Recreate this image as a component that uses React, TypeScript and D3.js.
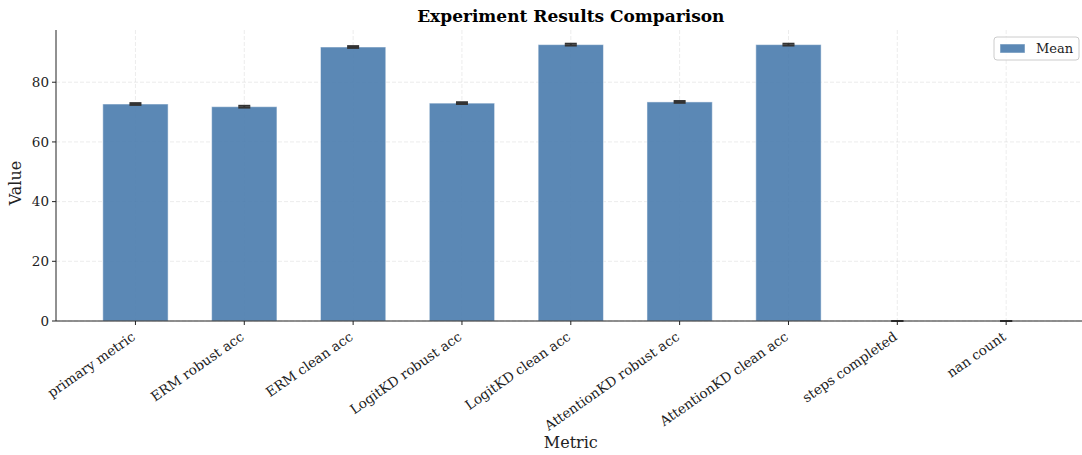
import React from "react";
import * as d3 from "d3";

const categories = [
  "primary metric",
  "ERM robust acc",
  "ERM clean acc",
  "LogitKD robust acc",
  "LogitKD clean acc",
  "AttentionKD robust acc",
  "AttentionKD clean acc",
  "steps completed",
  "nan count",
];
const means = [72.7, 71.8, 91.8, 73.0, 92.6, 73.4, 92.6, 0, 0];
const errs = [0.3, 0.3, 0.3, 0.3, 0.3, 0.3, 0.3, 0, 0];
const yTicks = [0, 20, 40, 60, 80];
const seriesName = "Mean";

const W = 1082;
const H = 455;
const left = 56;
const right = 1085.6;
const top = 30;
const bottom = 321;
const FONT = "'DejaVu Serif', serif";

export default function App() {
  const x = d3.scaleLinear().domain([-0.73, categories.length - 1 + 0.73]).range([left, right]);
  const y = d3.scaleLinear().domain([0, 97.5]).range([bottom, top]);
  const bw = x(0.6) - x(0);
  const barColor = "#497bad";

  return (
    <svg
      width={W}
      height={H}
      style={{ position: "absolute", left: 0, top: 0, background: "#fff" }}
      fontFamily={FONT}
    >
      {/* grid */}
      {yTicks.map((t) => (
        <line
          key={"gy" + t}
          x1={left}
          x2={right}
          y1={y(t)}
          y2={y(t)}
          stroke="#b0b0b0"
          strokeOpacity={0.3}
          strokeDasharray="4,2"
          strokeWidth={0.8}
        />
      ))}
      {categories.map((c, i) => (
        <line
          key={"gx" + i}
          x1={x(i)}
          x2={x(i)}
          y1={top}
          y2={bottom}
          stroke="#b0b0b0"
          strokeOpacity={0.3}
          strokeDasharray="4,2"
          strokeWidth={0.8}
        />
      ))}
      {/* bars */}
      {means.map((m, i) => (
        <rect
          key={"b" + i}
          x={x(i) - bw / 2}
          y={y(m)}
          width={bw}
          height={y(0) - y(m)}
          fill={barColor}
          fillOpacity={0.9}
          stroke="#ffffff"
          strokeOpacity={0.5}
          strokeWidth={1}
        />
      ))}
      {/* error bars */}
      {means.map((m, i) => (
        <g key={"e" + i} stroke="#333" strokeWidth={2}>
          <line x1={x(i)} x2={x(i)} y1={y(m - errs[i])} y2={y(m + errs[i])} />
          <line x1={x(i) - 6} x2={x(i) + 6} y1={y(m - errs[i])} y2={y(m - errs[i])} />
          <line x1={x(i) - 6} x2={x(i) + 6} y1={y(m + errs[i])} y2={y(m + errs[i])} />
        </g>
      ))}
      {/* axes */}
      <line x1={left} x2={left} y1={top} y2={bottom} stroke="#222" strokeWidth={1} />
      <line x1={left} x2={right} y1={bottom} y2={bottom} stroke="#222" strokeWidth={1} />
      {yTicks.map((t) => (
        <g key={"yt" + t}>
          <line x1={left - 4} x2={left} y1={y(t)} y2={y(t)} stroke="#222" />
          <text x={left - 7} y={y(t)} dy="0.35em" textAnchor="end" fontSize={13.5} fill="#222">
            {t}
          </text>
        </g>
      ))}
      {categories.map((c, i) => (
        <g key={"xt" + i}>
          <line x1={x(i)} x2={x(i)} y1={bottom} y2={bottom + 4} stroke="#222" />
          <text
            transform={`translate(${x(i) - 2},${bottom + 14}) rotate(-35)`}
            textAnchor="end"
            dy="0.35em"
            fontSize={13.5}
            fill="#222"
          >
            {c}
          </text>
        </g>
      ))}
      {/* labels */}
      <text x={(left + right) / 2} y={22} textAnchor="middle" fontSize={17} fontWeight="bold" fill="#000">
        Experiment Results Comparison
      </text>
      <text x={(left + right) / 2} y={448} textAnchor="middle" fontSize={16} fill="#222">
        Metric
      </text>
      <text
        transform={`translate(21,183) rotate(-90)`}
        textAnchor="middle"
        fontSize={16}
        fill="#222"
      >
        Value
      </text>
      {/* legend */}
      <g>
        <rect x={994} y={37} width={85} height={23} rx={3} fill="#fff" fillOpacity={0.8} stroke="#ccc" />
        <rect x={1000} y={44} width={25} height={9} fill={barColor} fillOpacity={0.9} stroke="#fff" strokeOpacity={0.5} />
        <text x={1036} y={48.5} dy="0.35em" fontSize={13} fill="#222">
          {seriesName}
        </text>
      </g>
    </svg>
  );
}
